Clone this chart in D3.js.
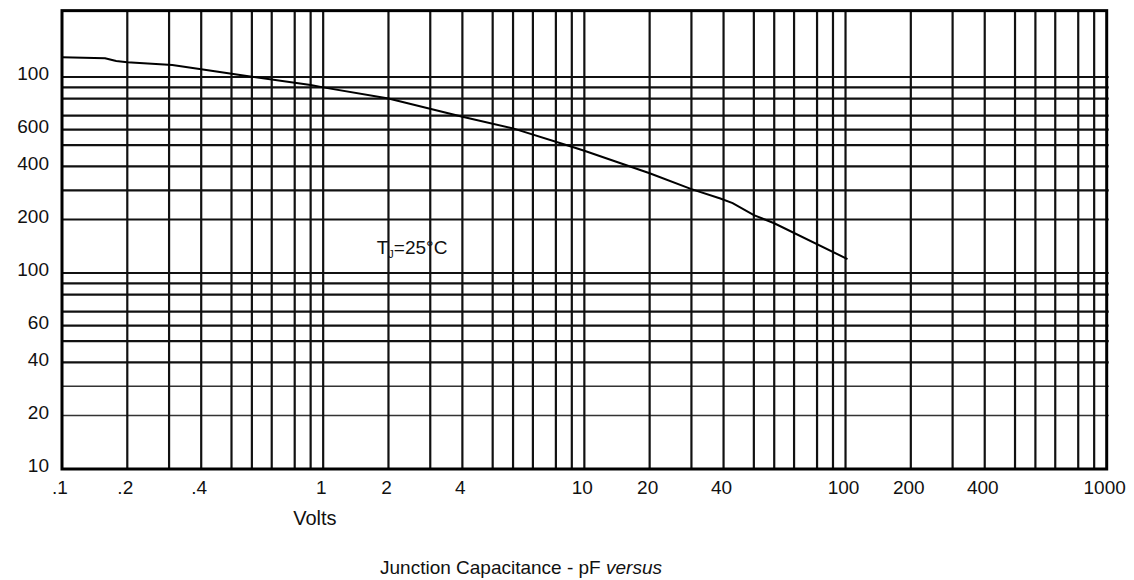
<!DOCTYPE html>
<html>
<head>
<meta charset="utf-8">
<script src="https://cdn.jsdelivr.net/npm/d3@7"></script>
<style>
  body { margin: 0; background: #fff; }
  text { font-family: "Liberation Sans", Arial, sans-serif; fill: #111; }
</style>
</head>
<body>
<div id="chart"></div>
<script>
// junction capacitance curve
const volts = [0.1, 0.166, 0.183, 0.2, 0.31, 0.4, 0.6, 0.9, 1, 2, 4, 6, 9, 10, 20, 30, 39, 43, 50, 60, 103];
const capacitance = [1368, 1349, 1299, 1275, 1224, 1144, 1006, 923, 900, 800, 692, 608, 493, 474, 371, 305, 272, 256, 215, 193, 126];

const xTickValues = [0.1, 0.2, 0.4, 1, 2, 4, 10, 20, 40, 100, 200, 400, 1000];
const xTickLabels = [".1", ".2", ".4", "1", "2", "4", "10", "20", "40", "100", "200", "400", "1000"];
const yTickValues = [10, 20, 40, 60, 100, 200, 400, 600, 1000];
const yTickLabels = ["10", "20", "40", "60", "100", "200", "400", "600", "100"];

const xDecades = [0.1, 1, 10, 100];
const yDecades = [10, 100];
const yTop = 2440;

const noteText = { main: "T", sub: "J", rest: "=25°C", x: 1.82, y: 149 };

class CapacitanceChart {
  constructor(mountPoint) {
    this.svgWidth = 1134;
    this.svgHeight = 580;
    this.margin = { top: 10.7, left: 62, right: 27.3, bottom: 111 };
    this.width = this.svgWidth - this.margin.left - this.margin.right;
    this.height = this.svgHeight - this.margin.top - this.margin.bottom;

    // the printed log paper is not ruled exactly logarithmically:
    // fraction of a decade at mantissa 1..9
    this.xRuling = [0, 0.25, 0.41, 0.533, 0.649, 0.727, 0.803, 0.891, 0.952];
    this.yRuling = [0, 0.273, 0.422, 0.544, 0.652, 0.732, 0.803, 0.89, 0.947];

    this.svg = d3
      .select(`#${mountPoint}`)
      .append("svg")
      .attr("width", this.svgWidth)
      .attr("height", this.svgHeight);

    this.prepareScales();
    this.render();
  }

  ruledScale(decades, ruling, r0, r1) {
    const n = decades.length;
    const step = (r1 - r0) / n;
    const domain = [];
    const range = [];
    decades.forEach((base, i) => {
      ruling.forEach((f, m) => {
        domain.push(base * (m + 1));
        range.push(r0 + (i + f) * step);
      });
    });
    domain.push(decades[n - 1] * 10);
    range.push(r1);
    return { domain, range };
  }

  prepareScales() {
    // piecewise scales following the ruling of the paper
    const xr = this.ruledScale(xDecades, this.xRuling, 0, this.width);
    this.xGrid = xr.domain;
    this.x = d3.scaleLinear().domain(xr.domain).range(xr.range);

    // y: 10 .. 1000 ruled, paper continues up to yTop
    const decadeH = 196;
    const yr = this.ruledScale(yDecades, this.yRuling, 0, decadeH * yDecades.length);
    const extra = this.ruledScale([1000], this.yRuling, decadeH * 2, decadeH * 3);
    const domain = yr.domain.concat(extra.domain.slice(1));
    const range = yr.range.concat(extra.range.slice(1)).map((r) => this.height - r);
    this.yGrid = yr.domain;
    this.y = d3.scaleLinear().domain(domain).range(range);
  }

  render() {
    const g = this.svg
      .append("g")
      .attr("transform", `translate(${this.margin.left},${this.margin.top})`);

    const top = this.y(yTop);
    const bottom = this.y(10);
    const left = this.x(0.1);
    const right = this.x(1000);

    // horizontal grid
    g.append("g")
      .selectAll("line")
      .data(this.yGrid.slice(1))
      .join("line")
      .attr("x1", left)
      .attr("x2", right + 2)
      .attr("y1", (d) => this.y(d))
      .attr("y2", (d) => this.y(d))
      .attr("stroke", (d) => (d == 20 || d == 30 ? "#333" : "#111"))
      .attr("stroke-width", (d) => (d == 20 || d == 30 ? 1.6 : 2.2));

    // vertical grid
    g.append("g")
      .selectAll("line")
      .data(this.xGrid.slice(1, -1))
      .join("line")
      .attr("x1", (d) => this.x(d))
      .attr("x2", (d) => this.x(d))
      .attr("y1", top)
      .attr("y2", bottom)
      .attr("stroke", "#111")
      .attr("stroke-width", 2.2);

    // frame
    g.append("rect")
      .attr("x", left)
      .attr("y", top)
      .attr("width", right - left)
      .attr("height", bottom - top)
      .attr("fill", "none")
      .attr("stroke", "#000")
      .attr("stroke-width", 3);

    // curve
    const line = d3
      .line()
      .x((d) => this.x(d[0]))
      .y((d) => this.y(d[1]));

    g.append("path")
      .datum(d3.zip(volts, capacitance))
      .attr("d", line)
      .attr("fill", "none")
      .attr("stroke", "#000")
      .attr("stroke-width", 2);

    // x tick labels
    g.append("g")
      .selectAll("text")
      .data(d3.zip(xTickValues, xTickLabels))
      .join("text")
      .attr("x", (d) => this.x(d[0]) - 2)
      .attr("y", bottom + 25)
      .attr("text-anchor", "middle")
      .style("font-size", "19px")
      .text((d) => d[1]);

    // y tick labels
    g.append("g")
      .selectAll("text")
      .data(d3.zip(yTickValues, yTickLabels))
      .join("text")
      .attr("x", -13)
      .attr("y", (d) => this.y(d[0]) + 3.5)
      .attr("text-anchor", "end")
      .style("font-size", "19px")
      .text((d) => d[1]);

    // note
    const note = g
      .append("text")
      .attr("x", this.x(noteText.x))
      .attr("y", this.y(noteText.y) + 7)
      .style("font-size", "19px");
    note.append("tspan").text(noteText.main);
    note.append("tspan").attr("dy", 4).style("font-size", "11px").text(noteText.sub);
    note.append("tspan").attr("dy", -4).text(noteText.rest);

    // axis title and caption
    g.append("text")
      .attr("x", this.x(1) - 30)
      .attr("y", bottom + 56)
      .style("font-size", "20px")
      .text("Volts");

    const caption = g
      .append("text")
      .attr("x", 318)
      .attr("y", bottom + 105)
      .style("font-size", "19px");
    caption.append("tspan").text("Junction Capacitance - pF ");
    caption.append("tspan").style("font-style", "italic").text("versus");
  }
}

new CapacitanceChart("chart");
</script>
</body>
</html>
